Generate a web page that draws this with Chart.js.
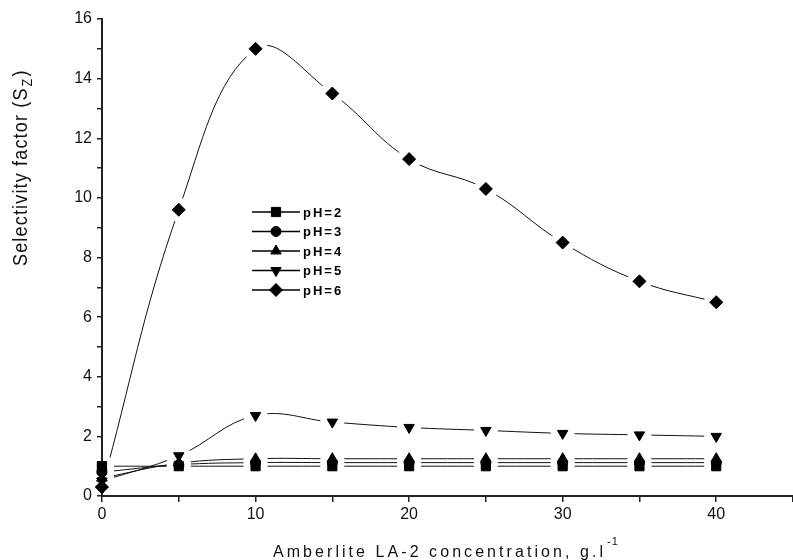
<!DOCTYPE html>
<html>
<head>
<meta charset="utf-8">
<script src="https://cdn.jsdelivr.net/npm/chart.js@4.4.1/dist/chart.umd.min.js"></script>
<style>
    html, body { margin: 0; padding: 0; background: #fff; }
</style>
</head>
<body>
<canvas id="myChart" width="793" height="560"></canvas>
<script>
// Konsantrasyon (g/l) ve her pH için seçicilik faktörü
const concentration = [0, 5, 10, 15, 20, 25, 30, 35, 40];
const pH2 = [1.0, 1.0, 1.0, 1.0, 1.0, 1.0, 1.0, 1.0, 1.0];
const pH3 = [0.8, 1.05, 1.12, 1.12, 1.12, 1.12, 1.12, 1.12, 1.12];
const pH4 = [0.6, 1.1, 1.25, 1.25, 1.25, 1.25, 1.25, 1.25, 1.25];
const pH5 = [0.5, 1.35, 2.7, 2.48, 2.3, 2.2, 2.1, 2.05, 2.0];
const pH6 = [0.3, 9.6, 15.0, 13.5, 11.3, 10.3, 8.5, 7.2, 6.5];

const seriesLabels = ['pH=2', 'pH=3', 'pH=4', 'pH=5', 'pH=6'];
const xTicks = [0, 10, 20, 30, 40];
const yTicks = [0, 2, 4, 6, 8, 10, 12, 14, 16];

const xTitle = 'Amberlite LA-2 concentration, g.l';
const yTitle = 'Selectivity factor (S';

// marker stilleri (Origin benzeri)
const markers = [
    { pointStyle: 'rect', radius: 6.5, rotation: 0 },
    { pointStyle: 'circle', radius: 5, rotation: 0 },
    { pointStyle: 'triangle', radius: 6, rotation: 0 },
    { pointStyle: 'triangle', radius: 6, rotation: 180 },
    { pointStyle: 'rectRot', radius: 6.5, rotation: 0 }
];

function toPoints(values) {
    return concentration.map((c, i) => ({ x: c, y: values[i] }));
}

const datasets = [pH2, pH3, pH4, pH5, pH6].map((values, i) => ({
    label: seriesLabels[i],
    data: toPoints(values),
    borderColor: '#111',
    borderWidth: 1,
    tension: 0.4,
    fill: false,
    clip: false,
    pointStyle: markers[i].pointStyle,
    pointRadius: markers[i].radius,
    pointRotation: markers[i].rotation,
    pointBackgroundColor: '#000',
    pointBorderColor: '#000',
    pointBorderWidth: 1
}));

// marker çevresinde çizgi boşluğu (gap) bırakır
const gapPlugin = {
    id: 'gapPlugin',
    afterDatasetsDraw(chart) {
        const ctx = chart.ctx;
        const area = chart.chartArea;
        ctx.save();
        ctx.beginPath();
        ctx.rect(area.left + 2, area.top, area.right - area.left - 2, area.bottom - area.top - 2);
        ctx.clip();
        ctx.fillStyle = '#fff';
        chart.getSortedVisibleDatasetMetas().forEach(meta => {
            meta.data.forEach(p => {
                ctx.beginPath();
                ctx.arc(p.x, p.y, 12, 0, Math.PI * 2);
                ctx.fill();
            });
        });
        ctx.restore();
        chart.getSortedVisibleDatasetMetas().forEach(meta => {
            meta.data.forEach(p => p.draw(ctx));
        });
    }
};

// grafik içindeki lejant ve eksen başlıkları
const textPlugin = {
    id: 'textPlugin',
    afterDraw(chart) {
        const ctx = chart.ctx;
        ctx.save();

        // lejant
        ctx.font = 'bold 13px "Liberation Sans", Arial, sans-serif';
        ctx.letterSpacing = '2px';
        ctx.textBaseline = 'middle';
        ctx.textAlign = 'left';
        seriesLabels.forEach((label, i) => {
            const y = 212 + i * 19.5;
            ctx.strokeStyle = '#000';
            ctx.lineWidth = 1.5;
            ctx.beginPath();
            ctx.moveTo(252, y);
            ctx.lineTo(300, y);
            ctx.stroke();
            ctx.fillStyle = '#000';
            ctx.lineWidth = 1;
            Chart.helpers.drawPoint(ctx, {
                pointStyle: markers[i].pointStyle,
                radius: markers[i].radius,
                rotation: markers[i].rotation,
                borderWidth: 1
            }, 276, y);
            ctx.fillText(label, 303, y + 1);
        });

        // x ekseni başlığı
        ctx.fillStyle = '#111';
        ctx.font = '16px "Liberation Sans", Arial, sans-serif';
        ctx.letterSpacing = '0px';
        const raw = ctx.measureText(xTitle).width;
        const spacing = (330 - raw) / (xTitle.length - 1);
        ctx.letterSpacing = spacing + 'px';
        const xw = ctx.measureText(xTitle).width;
        const cx = (chart.chartArea.left + chart.chartArea.right) / 2 - 8;
        ctx.textBaseline = 'alphabetic';
        ctx.fillText(xTitle, cx - xw / 2, 557);
        ctx.font = '11px "Liberation Sans", Arial, sans-serif';
        ctx.letterSpacing = '1px';
        ctx.fillText('-1', cx + xw / 2 + 1, 545);

        // y ekseni başlığı
        ctx.save();
        ctx.translate(27, 266);
        ctx.rotate(-Math.PI / 2);
        ctx.font = '20px "Liberation Sans", Arial, sans-serif';
        ctx.letterSpacing = '1.3px';
        ctx.scale(0.9, 1);
        ctx.fillText(yTitle, 0, 0);
        const yw = ctx.measureText(yTitle).width;
        ctx.font = '14px "Liberation Sans", Arial, sans-serif';
        ctx.fillText('Z', yw + 1, 5);
        ctx.font = '20px "Liberation Sans", Arial, sans-serif';
        ctx.fillText(')', yw + 12, 0);
        ctx.restore();

        ctx.restore();
    }
};

const tickFont = { family: '"Liberation Sans", Arial, sans-serif', size: 16 };

new Chart(document.getElementById('myChart').getContext('2d'), {
    type: 'line',
    data: { datasets: datasets },
    options: {
        responsive: false,
        animation: false,
        layout: { autoPadding: false, padding: { top: 19, left: 0, right: 0, bottom: 0 } },
        plugins: {
            legend: { display: false },
            tooltip: { enabled: false }
        },
        scales: {
            x: {
                type: 'linear',
                min: 0,
                max: 45,
                ticks: {
                    stepSize: 5,
                    autoSkip: false,
                    maxRotation: 0,
                    padding: 3,
                    color: '#111',
                    font: tickFont,
                    callback: v => xTicks.includes(v) ? String(v) : ''
                },
                grid: { drawOnChartArea: false, drawTicks: true, tickLength: 6, color: '#222', lineWidth: 1.5 },
                border: { display: true, color: '#222', width: 2 },
                afterFit(scale) {
                    scale.height = 64;
                    scale.paddingLeft = 0;
                    scale.paddingRight = 0;
                }
            },
            y: {
                min: 0,
                max: 16,
                ticks: {
                    stepSize: 1,
                    autoSkip: false,
                    padding: 5,
                    color: '#111',
                    font: tickFont,
                    callback: v => yTicks.includes(v) ? String(v) : ''
                },
                grid: { drawOnChartArea: false, drawTicks: true, tickLength: 5, color: '#222', lineWidth: 1.5 },
                border: { display: true, color: '#222', width: 2 },
                afterFit(scale) {
                    scale.width = 102;
                    scale.paddingTop = 0;
                    scale.paddingBottom = 0;
                }
            }
        }
    },
    plugins: [gapPlugin, textPlugin]
});
</script>
</body>
</html>
